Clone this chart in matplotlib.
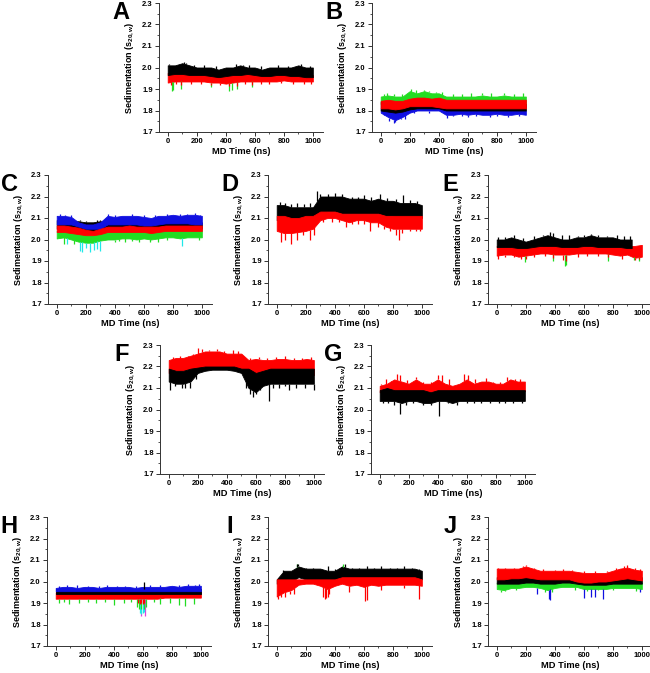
import numpy as np
import matplotlib
matplotlib.use("Agg")
import matplotlib.pyplot as plt
from matplotlib.ticker import MultipleLocator, FormatStrFormatter

plt.rcParams['font.family'] = ['Liberation Sans', 'DejaVu Sans']
plt.rcParams['font.weight'] = 'bold'
plt.rcParams['mathtext.fontset'] = 'custom'
plt.rcParams['mathtext.rm'] = 'Liberation Sans:bold'
plt.rcParams['mathtext.it'] = 'Liberation Sans:bold'
plt.rcParams['mathtext.bf'] = 'Liberation Sans:bold'

BLACK, RED, GREEN, BLUE, CYAN, MAGENTA = '#000000', '#ff0000', '#22dd22', '#1010e0', '#20e8e8', '#e040e0'

# sample times (ns) for the envelopes
T = [0, 50, 100, 150, 200, 250, 300, 350, 400, 450, 500,
     550, 600, 650, 700, 750, 800, 850, 900, 950, 1000]

# ---- A ----
A_black_hi = [2.01, 2.01, 2.02, 2.01, 2.00, 2.00, 2.00, 1.99, 2.00, 2.00, 2.01, 2.00, 2.00, 1.99, 2.00, 2.00, 2.00, 2.00, 2.01, 2.00, 2.00]
A_black_lo = [1.965, 1.97, 1.97, 1.965, 1.965, 1.965, 1.96, 1.955, 1.96, 1.965, 1.965, 1.97, 1.965, 1.96, 1.96, 1.965, 1.965, 1.96, 1.96, 1.955, 1.955]
A_black_pk_t = [10, 40, 110, 125, 180, 250, 330, 470, 520, 560, 640, 760, 830, 920, 980]
A_black_pk_v = [2.015, 2.01, 2.025, 2.02, 2.01, 2.01, 2.005, 2.015, 2.01, 2.012, 2.005, 2.012, 2.008, 2.015, 2.008]
A_red_hi = [1.975, 1.975, 1.98, 1.975, 1.975, 1.97, 1.97, 1.965, 1.97, 1.97, 1.975, 1.975, 1.97, 1.97, 1.97, 1.97, 1.975, 1.97, 1.97, 1.965, 1.965]
A_red_lo = [1.93, 1.935, 1.935, 1.935, 1.935, 1.935, 1.93, 1.93, 1.925, 1.93, 1.935, 1.935, 1.935, 1.935, 1.935, 1.935, 1.94, 1.935, 1.935, 1.935, 1.935]
A_red_dip_t = [20, 60, 90, 160, 230, 300, 360, 420, 480, 530, 580, 640, 700, 780, 860, 940, 990]
A_red_dip_v = [1.92, 1.925, 1.92, 1.925, 1.925, 1.92, 1.92, 1.915, 1.915, 1.925, 1.92, 1.925, 1.925, 1.93, 1.925, 1.925, 1.925]
A_green_dip_t = [30, 35, 90, 300, 420, 440, 480, 580]
A_green_dip_v = [1.89, 1.895, 1.90, 1.91, 1.89, 1.895, 1.90, 1.91]

# ---- B ----
B_green_hi = [1.865, 1.87, 1.865, 1.865, 1.89, 1.88, 1.89, 1.88, 1.88, 1.865, 1.865, 1.865, 1.865, 1.865, 1.87, 1.865, 1.865, 1.87, 1.865, 1.865, 1.865]
B_green_lo = [1.83, 1.83, 1.83, 1.83, 1.84, 1.84, 1.84, 1.84, 1.84, 1.83, 1.83, 1.83, 1.83, 1.83, 1.83, 1.83, 1.83, 1.83, 1.83, 1.83, 1.83]
B_green_pk_t = [20, 40, 90, 150, 210, 240, 300, 330, 380, 420, 500, 560, 620, 700, 760, 850, 920, 980]
B_green_pk_v = [1.875, 1.88, 1.875, 1.875, 1.90, 1.895, 1.895, 1.89, 1.885, 1.885, 1.875, 1.875, 1.88, 1.88, 1.88, 1.88, 1.875, 1.88]
B_red_hi = [1.845, 1.85, 1.845, 1.845, 1.855, 1.86, 1.86, 1.855, 1.86, 1.85, 1.85, 1.85, 1.85, 1.85, 1.85, 1.85, 1.85, 1.85, 1.85, 1.85, 1.85]
B_red_lo = [1.81, 1.81, 1.805, 1.81, 1.82, 1.82, 1.82, 1.82, 1.815, 1.81, 1.81, 1.81, 1.81, 1.81, 1.81, 1.81, 1.81, 1.81, 1.81, 1.81, 1.81]
B_black_hi = [1.84, 1.83, 1.83, 1.83, 1.84, 1.845, 1.845, 1.84, 1.845, 1.83, 1.83, 1.83, 1.83, 1.83, 1.83, 1.83, 1.83, 1.83, 1.83, 1.83, 1.83]
B_black_lo = [1.80, 1.795, 1.79, 1.795, 1.805, 1.81, 1.81, 1.81, 1.81, 1.80, 1.80, 1.80, 1.80, 1.80, 1.80, 1.80, 1.80, 1.80, 1.80, 1.80, 1.80]
B_blue_hi = [1.81, 1.80, 1.80, 1.80, 1.81, 1.815, 1.815, 1.815, 1.815, 1.805, 1.80, 1.80, 1.80, 1.80, 1.80, 1.80, 1.80, 1.80, 1.80, 1.80, 1.80]
B_blue_lo = [1.79, 1.77, 1.755, 1.77, 1.79, 1.80, 1.80, 1.80, 1.80, 1.78, 1.78, 1.785, 1.78, 1.785, 1.78, 1.78, 1.785, 1.78, 1.78, 1.785, 1.78]
B_blue_dip_t = [20, 60, 90, 100, 140, 170, 230, 330, 460, 500, 560, 600, 660, 750, 800, 880, 950]
B_blue_dip_v = [1.78, 1.75, 1.74, 1.745, 1.76, 1.76, 1.79, 1.79, 1.765, 1.775, 1.775, 1.77, 1.775, 1.77, 1.775, 1.77, 1.775]

# ---- C ----
C_blue_hi = [2.11, 2.11, 2.105, 2.08, 2.07, 2.07, 2.08, 2.11, 2.105, 2.11, 2.11, 2.11, 2.105, 2.10, 2.11, 2.11, 2.115, 2.11, 2.115, 2.115, 2.11]
C_blue_lo = [2.07, 2.07, 2.07, 2.06, 2.05, 2.05, 2.05, 2.07, 2.07, 2.07, 2.07, 2.07, 2.065, 2.065, 2.07, 2.075, 2.075, 2.075, 2.075, 2.07, 2.07]
C_blue_pk_t = [20, 60, 100, 350, 400, 470, 520, 600, 680, 760, 800, 850, 900, 950, 990]
C_blue_pk_v = [2.12, 2.115, 2.115, 2.12, 2.115, 2.11, 2.12, 2.115, 2.115, 2.12, 2.115, 2.12, 2.12, 2.125, 2.115]
C_black_hi = [2.09, 2.09, 2.085, 2.085, 2.08, 2.08, 2.085, 2.08, 2.08, 2.08, 2.08, 2.08, 2.075, 2.075, 2.08, 2.085, 2.085, 2.08, 2.08, 2.08, 2.08]
C_black_lo = [2.05, 2.05, 2.05, 2.04, 2.03, 2.03, 2.04, 2.05, 2.05, 2.05, 2.05, 2.05, 2.05, 2.05, 2.05, 2.05, 2.05, 2.05, 2.05, 2.05, 2.05]
C_black_pk_t = [160, 200, 240, 280, 300]
C_black_pk_v = [2.09, 2.085, 2.08, 2.09, 2.09]
C_red_hi = [2.065, 2.065, 2.06, 2.055, 2.045, 2.04, 2.05, 2.06, 2.06, 2.06, 2.065, 2.06, 2.06, 2.06, 2.06, 2.065, 2.065, 2.065, 2.065, 2.065, 2.065]
C_red_lo = [2.035, 2.035, 2.03, 2.025, 2.02, 2.02, 2.025, 2.035, 2.035, 2.035, 2.035, 2.035, 2.035, 2.03, 2.035, 2.04, 2.04, 2.04, 2.04, 2.04, 2.04]
C_green_hi = [2.04, 2.04, 2.035, 2.03, 2.02, 2.02, 2.03, 2.04, 2.04, 2.04, 2.04, 2.04, 2.04, 2.035, 2.04, 2.045, 2.045, 2.045, 2.045, 2.045, 2.045]
C_green_lo = [2.005, 2.01, 2.00, 1.99, 1.985, 1.985, 1.995, 2.00, 2.00, 2.005, 2.005, 2.00, 2.005, 2.00, 2.005, 2.01, 2.01, 2.005, 2.01, 2.01, 2.01]
C_green_dip_t = [50, 120, 400, 430, 470, 520, 570, 640, 700, 760, 980]
C_green_dip_v = [1.98, 1.98, 1.99, 1.995, 1.99, 1.995, 1.99, 1.99, 1.99, 2.00, 2.00]
C_cyan_dip_t = [70, 160, 175, 200, 230, 260, 280, 300, 860]
C_cyan_dip_v = [1.98, 1.945, 1.94, 1.96, 1.94, 1.95, 1.955, 1.945, 1.97]

# ---- D ----
D_black_hi = [2.16, 2.16, 2.15, 2.15, 2.15, 2.15, 2.20, 2.20, 2.20, 2.20, 2.19, 2.19, 2.19, 2.18, 2.19, 2.18, 2.18, 2.17, 2.17, 2.17, 2.16]
D_black_lo = [2.09, 2.09, 2.09, 2.09, 2.09, 2.10, 2.12, 2.13, 2.13, 2.12, 2.12, 2.12, 2.12, 2.12, 2.12, 2.11, 2.11, 2.10, 2.10, 2.10, 2.10]
D_black_pk_t = [20, 60, 100, 140, 190, 230, 280, 300, 350, 400, 450, 520, 560, 600, 650, 710, 760, 820, 870, 920, 970]
D_black_pk_v = [2.175, 2.17, 2.165, 2.17, 2.165, 2.17, 2.225, 2.21, 2.21, 2.215, 2.21, 2.20, 2.20, 2.205, 2.20, 2.21, 2.195, 2.19, 2.205, 2.185, 2.18]
D_red_hi = [2.11, 2.11, 2.10, 2.10, 2.11, 2.11, 2.13, 2.13, 2.13, 2.12, 2.12, 2.12, 2.12, 2.12, 2.12, 2.11, 2.11, 2.11, 2.11, 2.11, 2.11]
D_red_lo = [2.04, 2.03, 2.03, 2.035, 2.04, 2.05, 2.09, 2.10, 2.10, 2.09, 2.08, 2.09, 2.09, 2.08, 2.08, 2.06, 2.05, 2.05, 2.05, 2.05, 2.05]
D_red_dip_t = [30, 60, 100, 140, 180, 230, 260, 320, 380, 430, 480, 520, 560, 600, 640, 700, 740, 780, 820, 840, 860, 920, 960, 990]
D_red_dip_v = [1.99, 2.00, 1.98, 2.00, 2.02, 2.00, 2.02, 2.08, 2.08, 2.08, 2.06, 2.07, 2.07, 2.07, 2.04, 2.06, 2.05, 2.04, 2.02, 2.00, 2.03, 2.04, 2.04, 2.04]

# ---- E ----
E_black_t = [0, 50, 100, 150, 200, 250, 300, 350, 400, 450, 500, 550, 600, 650, 700, 750, 800, 850, 900, 930]
E_black_hi = [2.00, 2.00, 2.01, 2.00, 1.99, 2.00, 2.01, 2.02, 2.01, 2.00, 2.00, 2.01, 2.01, 2.02, 2.01, 2.01, 2.01, 2.00, 2.00, 2.00]
E_black_lo = [1.965, 1.965, 1.965, 1.96, 1.96, 1.965, 1.97, 1.97, 1.97, 1.965, 1.965, 1.965, 1.97, 1.97, 1.965, 1.965, 1.965, 1.965, 1.96, 1.96]
E_black_pk_t = [10, 60, 120, 180, 260, 320, 370, 390, 450, 500, 560, 600, 650, 700, 760, 830, 880, 920]
E_black_pk_v = [2.01, 2.01, 2.02, 2.005, 2.015, 2.02, 2.035, 2.03, 2.02, 2.02, 2.015, 2.02, 2.025, 2.02, 2.015, 2.02, 2.015, 2.015]
E_red_hi = [1.97, 1.97, 1.975, 1.97, 1.965, 1.97, 1.97, 1.975, 1.975, 1.97, 1.97, 1.97, 1.97, 1.975, 1.97, 1.97, 1.97, 1.97, 1.97, 1.97, 1.975]
E_red_lo = [1.925, 1.93, 1.93, 1.92, 1.925, 1.93, 1.935, 1.935, 1.93, 1.93, 1.93, 1.935, 1.935, 1.935, 1.935, 1.935, 1.93, 1.925, 1.93, 1.915, 1.92]
E_red_dip_t = [10, 60, 120, 170, 200, 260, 330, 390, 460, 480, 560, 620, 700, 770, 860, 950, 980]
E_red_dip_v = [1.91, 1.92, 1.92, 1.91, 1.91, 1.92, 1.925, 1.915, 1.905, 1.90, 1.92, 1.925, 1.925, 1.92, 1.91, 1.905, 1.91]
E_green_dip_t = [195, 390, 470, 480, 770, 945, 980]
E_green_dip_v = [1.895, 1.90, 1.875, 1.88, 1.90, 1.905, 1.90]

# ---- F ----
F_red_hi = [2.23, 2.24, 2.24, 2.25, 2.26, 2.27, 2.27, 2.27, 2.26, 2.26, 2.26, 2.23, 2.235, 2.23, 2.23, 2.235, 2.235, 2.23, 2.23, 2.235, 2.23]
F_red_lo = [2.17, 2.18, 2.18, 2.19, 2.19, 2.20, 2.20, 2.20, 2.19, 2.19, 2.18, 2.15, 2.15, 2.16, 2.16, 2.17, 2.17, 2.17, 2.16, 2.16, 2.16]
F_red_pk_t = [10, 30, 80, 130, 170, 200, 230, 280, 330, 380, 440, 480, 560, 620, 680, 740, 800, 860, 920, 980]
F_red_pk_v = [2.23, 2.245, 2.25, 2.25, 2.26, 2.285, 2.28, 2.275, 2.28, 2.27, 2.275, 2.27, 2.24, 2.245, 2.24, 2.245, 2.25, 2.24, 2.24, 2.245]
F_black_hi = [2.19, 2.18, 2.18, 2.19, 2.195, 2.20, 2.20, 2.20, 2.20, 2.20, 2.19, 2.19, 2.17, 2.18, 2.19, 2.19, 2.19, 2.19, 2.19, 2.19, 2.19]
F_black_lo = [2.13, 2.12, 2.12, 2.13, 2.17, 2.18, 2.185, 2.185, 2.185, 2.18, 2.17, 2.10, 2.08, 2.11, 2.12, 2.12, 2.12, 2.12, 2.12, 2.12, 2.12]
F_black_dip_t = [10, 40, 90, 110, 150, 190, 530, 560, 580, 600, 630, 690, 720, 760, 800, 830, 880, 940, 1000]
F_black_dip_v = [2.09, 2.11, 2.10, 2.10, 2.10, 2.14, 2.10, 2.07, 2.06, 2.07, 2.09, 2.04, 2.10, 2.10, 2.11, 2.09, 2.10, 2.10, 2.09]

# ---- G ----
G_red_hi = [2.11, 2.12, 2.14, 2.13, 2.12, 2.14, 2.12, 2.12, 2.14, 2.12, 2.11, 2.12, 2.14, 2.12, 2.13, 2.13, 2.12, 2.12, 2.14, 2.13, 2.13]
G_red_lo = [2.08, 2.08, 2.085, 2.085, 2.08, 2.08, 2.08, 2.08, 2.085, 2.08, 2.08, 2.08, 2.085, 2.085, 2.085, 2.085, 2.08, 2.08, 2.085, 2.085, 2.085]
G_red_pk_t = [10, 40, 80, 120, 140, 190, 250, 300, 350, 400, 430, 480, 540, 580, 610, 660, 730, 780, 830, 880, 930, 970]
G_red_pk_v = [2.12, 2.14, 2.13, 2.165, 2.16, 2.135, 2.15, 2.13, 2.13, 2.16, 2.16, 2.14, 2.12, 2.165, 2.16, 2.14, 2.145, 2.13, 2.13, 2.15, 2.14, 2.14]
G_black_hi = [2.09, 2.10, 2.09, 2.09, 2.09, 2.09, 2.09, 2.08, 2.09, 2.09, 2.09, 2.09, 2.09, 2.09, 2.09, 2.09, 2.09, 2.09, 2.09, 2.09, 2.09]
G_black_lo = [2.04, 2.04, 2.04, 2.03, 2.04, 2.04, 2.03, 2.03, 2.04, 2.04, 2.03, 2.04, 2.04, 2.04, 2.04, 2.04, 2.04, 2.04, 2.04, 2.04, 2.04]
G_black_dip_t = [20, 60, 100, 140, 180, 230, 300, 350, 410, 470, 530, 600, 650, 700, 760, 820, 860, 920, 980]
G_black_dip_v = [2.03, 2.03, 2.02, 1.98, 2.02, 2.03, 2.02, 2.02, 1.97, 2.03, 2.02, 2.03, 2.03, 2.03, 2.03, 2.03, 2.03, 2.03, 2.03]

# ---- H ----
H_blue_hi = [1.97, 1.975, 1.975, 1.97, 1.975, 1.975, 1.97, 1.975, 1.975, 1.975, 1.975, 1.97, 1.975, 1.975, 1.975, 1.975, 1.98, 1.975, 1.98, 1.98, 1.98]
H_blue_lo = [1.955, 1.955, 1.955, 1.955, 1.955, 1.955, 1.955, 1.955, 1.955, 1.955, 1.955, 1.955, 1.955, 1.955, 1.955, 1.955, 1.955, 1.955, 1.955, 1.955, 1.955]
H_blue_pk_t = [20, 80, 150, 220, 300, 350, 420, 480, 550, 650, 720, 800, 850, 910, 960, 990]
H_blue_pk_v = [1.98, 1.985, 1.985, 1.98, 1.98, 1.985, 1.98, 1.98, 1.98, 1.985, 1.985, 1.98, 1.985, 1.99, 1.985, 1.99]
H_black_hi = [1.965, 1.965, 1.965, 1.965, 1.965, 1.965, 1.965, 1.965, 1.965, 1.965, 1.965, 1.965, 1.965, 1.965, 1.965, 1.965, 1.965, 1.965, 1.965, 1.965, 1.965]
H_black_lo = [1.94, 1.94, 1.94, 1.94, 1.94, 1.94, 1.94, 1.94, 1.94, 1.94, 1.94, 1.94, 1.94, 1.94, 1.94, 1.94, 1.94, 1.94, 1.94, 1.94, 1.94]
H_black_pk_t = [605]
H_black_pk_v = [2.00]
H_red_hi = [1.95, 1.95, 1.95, 1.95, 1.95, 1.95, 1.95, 1.95, 1.95, 1.95, 1.95, 1.95, 1.95, 1.95, 1.95, 1.95, 1.95, 1.95, 1.95, 1.95, 1.95]
H_red_lo = [1.92, 1.92, 1.92, 1.92, 1.92, 1.92, 1.92, 1.92, 1.92, 1.92, 1.92, 1.92, 1.92, 1.92, 1.92, 1.925, 1.925, 1.925, 1.925, 1.925, 1.925]
H_red_dip_t = [570, 580, 590, 600, 610]
H_red_dip_v = [1.90, 1.895, 1.90, 1.895, 1.90]
H_green_dip_t = [20, 60, 90, 160, 220, 280, 340, 400, 470, 520, 560, 575, 590, 605, 620, 680, 720, 790, 850, 890, 950]
H_green_dip_v = [1.90, 1.905, 1.895, 1.90, 1.905, 1.90, 1.905, 1.89, 1.90, 1.905, 1.88, 1.87, 1.87, 1.87, 1.88, 1.905, 1.895, 1.90, 1.89, 1.885, 1.895]
H_cyan_dip_t = [580, 590, 600, 610]
H_cyan_dip_v = [1.855, 1.85, 1.855, 1.86]
H_magenta_dip_t = [585, 612]
H_magenta_dip_v = [1.84, 1.84]

# ---- I ----
I_black_hi = [2.01, 2.05, 2.05, 2.07, 2.06, 2.06, 2.06, 2.05, 2.05, 2.07, 2.06, 2.06, 2.06, 2.06, 2.06, 2.06, 2.06, 2.06, 2.06, 2.06, 2.05]
I_black_lo = [1.99, 2.00, 2.00, 2.02, 2.01, 2.00, 2.00, 1.99, 2.00, 2.01, 2.01, 2.01, 2.01, 2.01, 2.01, 2.01, 2.01, 2.01, 2.01, 2.01, 2.01]
I_black_pk_t = [40, 80, 140, 150, 200, 250, 290, 350, 400, 470, 520, 570, 620, 670, 720, 780, 830, 880, 930, 980]
I_black_pk_v = [2.055, 2.05, 2.08, 2.08, 2.065, 2.065, 2.06, 2.07, 2.06, 2.08, 2.065, 2.065, 2.07, 2.065, 2.07, 2.065, 2.065, 2.07, 2.065, 2.06]
I_red_hi = [2.01, 2.01, 2.01, 2.01, 2.01, 2.01, 2.01, 2.01, 2.01, 2.02, 2.02, 2.02, 2.02, 2.02, 2.02, 2.02, 2.02, 2.02, 2.02, 2.02, 2.01]
I_red_lo = [1.93, 1.95, 1.96, 1.985, 1.99, 1.99, 1.98, 1.965, 1.98, 1.99, 1.98, 1.985, 1.975, 1.985, 1.98, 1.985, 1.985, 1.985, 1.985, 1.985, 1.98]
I_red_dip_t = [10, 30, 60, 90, 120, 320, 330, 340, 350, 360, 500, 610, 620, 720, 880, 980]
I_red_dip_v = [1.92, 1.93, 1.93, 1.94, 1.94, 1.93, 1.92, 1.925, 1.93, 1.94, 1.95, 1.91, 1.915, 1.96, 1.97, 1.92]
I_green_pk_t = [140, 455]
I_green_pk_v = [2.08, 2.08]

# ---- J ----
J_red_hi = [2.06, 2.06, 2.06, 2.06, 2.07, 2.06, 2.05, 2.05, 2.05, 2.05, 2.05, 2.045, 2.04, 2.04, 2.04, 2.04, 2.05, 2.06, 2.065, 2.055, 2.05]
J_red_lo = [2.01, 2.01, 2.015, 2.015, 2.02, 2.015, 2.01, 2.01, 2.01, 2.01, 2.01, 2.0, 1.995, 1.995, 2.0, 2.0, 2.005, 2.01, 2.015, 2.01, 2.005]
J_red_pk_t = [10, 60, 120, 180, 200, 260, 320, 400, 460, 520, 600, 680, 760, 820, 880, 900, 950, 990]
J_red_pk_v = [2.065, 2.065, 2.065, 2.07, 2.075, 2.065, 2.06, 2.055, 2.06, 2.055, 2.05, 2.05, 2.05, 2.065, 2.07, 2.075, 2.065, 2.06]
J_black_hi = [2.02, 2.02, 2.02, 2.02, 2.02, 2.02, 2.02, 2.02, 2.02, 2.02, 2.02, 2.02, 2.02, 2.02, 2.02, 2.02, 2.02, 2.02, 2.02, 2.02, 2.02]
J_black_lo = [1.99, 1.99, 1.99, 1.99, 1.995, 1.995, 1.99, 1.99, 1.99, 1.995, 1.995, 1.99, 1.985, 1.985, 1.985, 1.985, 1.99, 1.99, 1.99, 1.99, 1.99]
J_green_hi = [1.995, 1.995, 1.995, 1.995, 1.995, 1.995, 1.995, 1.995, 1.995, 1.995, 1.995, 1.99, 1.99, 1.99, 1.99, 1.99, 1.99, 1.995, 1.995, 1.995, 1.995]
J_green_lo = [1.965, 1.96, 1.97, 1.97, 1.975, 1.975, 1.97, 1.96, 1.97, 1.975, 1.975, 1.975, 1.965, 1.965, 1.965, 1.965, 1.97, 1.97, 1.97, 1.97, 1.965]
J_green_dip_t = [30, 60, 130, 330, 380, 540, 620, 700, 800, 960]
J_green_dip_v = [1.95, 1.955, 1.96, 1.95, 1.95, 1.96, 1.955, 1.96, 1.96, 1.955]
J_blue_dip_t = [280, 360, 370, 600, 650, 680, 730, 990]
J_blue_dip_v = [1.94, 1.92, 1.915, 1.925, 1.93, 1.93, 1.92, 1.95]

# layers drawn bottom to top: ('band', t, lo, hi, color) or ('spike', t, v, base_t, base_v, color)
PANELS = {
    'A': [('spike', A_green_dip_t, A_green_dip_v, T, A_red_lo, GREEN),
          ('band', T, A_red_lo, A_red_hi, RED),
          ('spike', A_red_dip_t, A_red_dip_v, T, A_red_lo, RED),
          ('band', T, A_black_lo, A_black_hi, BLACK),
          ('spike', A_black_pk_t, A_black_pk_v, T, A_black_hi, BLACK)],
    'B': [('band', T, B_blue_lo, B_blue_hi, BLUE),
          ('spike', B_blue_dip_t, B_blue_dip_v, T, B_blue_lo, BLUE),
          ('band', T, B_green_lo, B_green_hi, GREEN),
          ('spike', B_green_pk_t, B_green_pk_v, T, B_green_hi, GREEN),
          ('band', T, B_black_lo, B_black_hi, BLACK),
          ('band', T, B_red_lo, B_red_hi, RED)],
    'C': [('spike', C_cyan_dip_t, C_cyan_dip_v, T, C_green_lo, CYAN),
          ('band', T, C_green_lo, C_green_hi, GREEN),
          ('spike', C_green_dip_t, C_green_dip_v, T, C_green_lo, GREEN),
          ('band', T, C_black_lo, C_black_hi, BLACK),
          ('spike', C_black_pk_t, C_black_pk_v, T, C_black_hi, BLACK),
          ('band', T, C_blue_lo, C_blue_hi, BLUE),
          ('spike', C_blue_pk_t, C_blue_pk_v, T, C_blue_hi, BLUE),
          ('band', T, C_red_lo, C_red_hi, RED)],
    'D': [('band', T, D_black_lo, D_black_hi, BLACK),
          ('spike', D_black_pk_t, D_black_pk_v, T, D_black_hi, BLACK),
          ('band', T, D_red_lo, D_red_hi, RED),
          ('spike', D_red_dip_t, D_red_dip_v, T, D_red_lo, RED)],
    'E': [('spike', E_green_dip_t, E_green_dip_v, T, E_red_lo, GREEN),
          ('band', T, E_red_lo, E_red_hi, RED),
          ('spike', E_red_dip_t, E_red_dip_v, T, E_red_lo, RED),
          ('band', E_black_t, E_black_lo, E_black_hi, BLACK),
          ('spike', E_black_pk_t, E_black_pk_v, E_black_t, E_black_hi, BLACK)],
    'F': [('band', T, F_red_lo, F_red_hi, RED),
          ('spike', F_red_pk_t, F_red_pk_v, T, F_red_hi, RED),
          ('band', T, F_black_lo, F_black_hi, BLACK),
          ('spike', F_black_dip_t, F_black_dip_v, T, F_black_lo, BLACK)],
    'G': [('band', T, G_red_lo, G_red_hi, RED),
          ('spike', G_red_pk_t, G_red_pk_v, T, G_red_hi, RED),
          ('band', T, G_black_lo, G_black_hi, BLACK),
          ('spike', G_black_dip_t, G_black_dip_v, T, G_black_lo, BLACK)],
    'H': [('spike', H_magenta_dip_t, H_magenta_dip_v, T, H_red_lo, MAGENTA),
          ('spike', H_cyan_dip_t, H_cyan_dip_v, T, H_red_lo, CYAN),
          ('spike', H_green_dip_t, H_green_dip_v, T, H_red_lo, GREEN),
          ('band', T, H_red_lo, H_red_hi, RED),
          ('spike', H_red_dip_t, H_red_dip_v, T, H_red_lo, RED),
          ('band', T, H_black_lo, H_black_hi, BLACK),
          ('spike', H_black_pk_t, H_black_pk_v, T, H_black_hi, BLACK),
          ('band', T, H_blue_lo, H_blue_hi, BLUE),
          ('spike', H_blue_pk_t, H_blue_pk_v, T, H_blue_hi, BLUE)],
    'I': [('spike', I_green_pk_t, I_green_pk_v, T, I_black_hi, GREEN),
          ('band', T, I_black_lo, I_black_hi, BLACK),
          ('spike', I_black_pk_t, I_black_pk_v, T, I_black_hi, BLACK),
          ('band', T, I_red_lo, I_red_hi, RED),
          ('spike', I_red_dip_t, I_red_dip_v, T, I_red_lo, RED)],
    'J': [('spike', J_blue_dip_t, J_blue_dip_v, T, J_green_lo, BLUE),
          ('band', T, J_green_lo, J_green_hi, GREEN),
          ('spike', J_green_dip_t, J_green_dip_v, T, J_green_lo, GREEN),
          ('band', T, J_black_lo, J_black_hi, BLACK),
          ('band', T, J_red_lo, J_red_hi, RED),
          ('spike', J_red_pk_t, J_red_pk_v, T, J_red_hi, RED)],
}

# axes top-left corners in pixels
POS = {'A': (159, 3), 'B': (372, 3),
       'C': (48, 175), 'D': (268, 175), 'E': (488, 175),
       'F': (160, 345), 'G': (371, 345),
       'H': (47, 517), 'I': (268, 517), 'J': (488, 517)}
W, H, AW, AH = 650, 673, 164, 129

fig = plt.figure(figsize=(6.5, 6.73), dpi=100)
for name, layers in PANELS.items():
    x0, y0 = POS[name]
    ax = fig.add_axes([x0 / W, 1 - (y0 + AH) / H, AW / W, AH / H])
    for layer in layers:
        if layer[0] == 'band':
            _, t, lo, hi, c = layer
            ax.fill_between(t, lo, hi, color=c, lw=0.6, ec=c)
        else:
            _, t, v, bt, bv, c = layer
            base = np.interp(t, bt, bv)
            ax.vlines(t, base, v, color=c, lw=0.9)
    ax.set_xlim(-60, 1070)
    ax.set_ylim(1.7, 2.3)
    ax.xaxis.set_major_locator(MultipleLocator(200))
    ax.xaxis.set_minor_locator(MultipleLocator(100))
    ax.yaxis.set_major_locator(MultipleLocator(0.1))
    ax.yaxis.set_minor_locator(MultipleLocator(0.05))
    ax.yaxis.set_major_formatter(FormatStrFormatter('%.1f'))
    for s in ['top', 'right']:
        ax.spines[s].set_visible(False)
    for s in ['left', 'bottom']:
        ax.spines[s].set_linewidth(0.7)
        ax.spines[s].set_color('#333333')
    ax.tick_params(which='major', direction='out', length=3, width=0.7, labelsize=5.5, pad=1.5, color='#333333')
    ax.tick_params(which='minor', direction='out', length=1.5, width=0.6, color='#333333')
    ax.set_ylabel(r'Sedimentation (s$_{20,w}$)', fontsize=6.5, fontweight='bold')
    ax.set_xlabel('MD Time (ns)', fontsize=6.7, fontweight='bold')
    ax.yaxis.set_label_coords(-0.14, 0.5)
    ax.xaxis.set_label_coords(0.5, -0.115)
    fig.text((x0 - 38) / W, 1 - (y0 - 2) / H, name, fontsize=17, fontweight='bold', ha='center', va='top')

fig.savefig('out.png', dpi=100)
